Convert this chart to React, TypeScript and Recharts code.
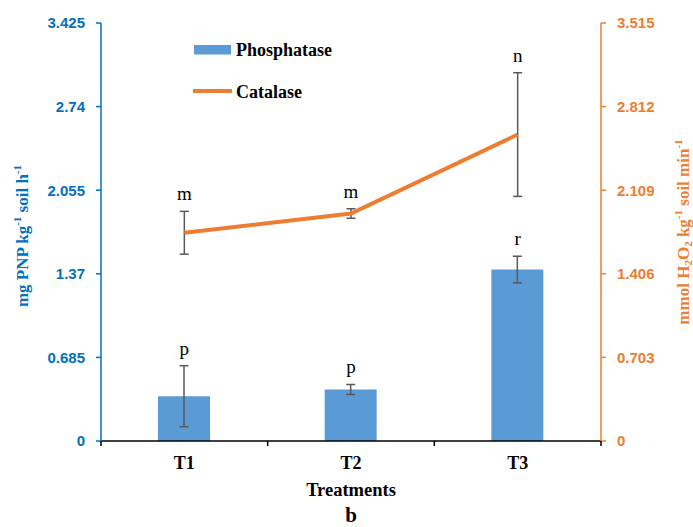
import React from 'react';
import { ComposedChart, Bar, Line, XAxis, YAxis, ErrorBar, LabelList, Legend } from 'recharts';

const categories = ['T1', 'T2', 'T3'];
const phosphatase = [0.367, 0.422, 1.405];
const phosphataseErr = [0.25, 0.041, 0.109];
const catalase = [1.751, 1.913, 2.577];
const catalaseErr = [0.18, 0.04, 0.52];
const phosLetters = ['p', 'p', 'r'];
const catLetters = ['m', 'm', 'n'];
const leftTicks = [0, 0.685, 1.37, 2.055, 2.74, 3.425];
const rightTicks = [0, 0.703, 1.406, 2.109, 2.812, 3.515];

const data = categories.map((c, i) => ({
  name: c,
  phos: phosphatase[i],
  phosErr: phosphataseErr[i],
  cat: catalase[i],
  catErr: catalaseErr[i],
  phosTop: phosphatase[i] + phosphataseErr[i],
  catTop: catalase[i] + catalaseErr[i],
  phosLetter: phosLetters[i],
  catLetter: catLetters[i],
}));

const CHART_W = 693;
const CHART_H = 527;
const LEFT_W = 101;
const RIGHT_W = 92;
const BAND = (CHART_W - LEFT_W - RIGHT_W) / categories.length;

const BLUE = '#5B9BD5';
const AXIS_BLUE = '#0070C0';
const ORANGE = '#ED7D31';
const SERIF = '"Liberation Serif", "Times New Roman", serif';
const SANS = '"Liberation Sans", Arial, sans-serif';

const renderLetter = (props: any) => {
  const { x, y, value } = props;
  return (
    <text x={x} y={y - 11} textAnchor="middle" fontFamily={SERIF} fontSize={19} fill="#000">
      {value}
    </text>
  );
};

const CatTick = (props: any) => {
  const { x, y, payload, index } = props;
  const half = BAND / 2;
  return (
    <g>
      <line x1={x - half} x2={x - half} y1={y} y2={y + 5} stroke="#000" strokeWidth={1.5} />
      {index === categories.length - 1 && (
        <line x1={x + half} x2={x + half} y1={y} y2={y + 5} stroke="#000" strokeWidth={1.5} />
      )}
      <text x={x} y={y + 28} textAnchor="middle" fontFamily={SERIF} fontWeight="bold" fontSize={18} fill="#000">
        {payload.value}
      </text>
    </g>
  );
};

const XTitle = (props: any) => {
  const { viewBox } = props;
  const cx = viewBox.x + viewBox.width / 2;
  return (
    <g>
      <text x={cx} y={viewBox.y + 55} textAnchor="middle" fontFamily={SERIF} fontWeight="bold" fontSize={18.5} fill="#000">
        Treatments
      </text>
      <text x={cx} y={viewBox.y + 81} textAnchor="middle" fontFamily={SERIF} fontWeight="bold" fontSize={21} fill="#000">
        b
      </text>
    </g>
  );
};

const LeftTitle = (props: any) => {
  const { viewBox } = props;
  const cx = 28;
  const cy = viewBox.y + viewBox.height / 2 + 4;
  return (
    <text x={cx} y={cy} transform={`rotate(-90, ${cx}, ${cy})`} textAnchor="middle" fontFamily={SERIF} fontWeight="bold" fontSize={17} fill={AXIS_BLUE}>
      <tspan>mg PNP kg</tspan>
      <tspan fontSize={11} dy={-7}>-1</tspan>
      <tspan dy={7}> soil h</tspan>
      <tspan fontSize={11} dy={-7}>-1</tspan>
    </text>
  );
};

const RightTitle = (props: any) => {
  const { viewBox } = props;
  const cx = 689;
  const cy = viewBox.y + viewBox.height / 2;
  return (
    <text x={cx} y={cy} transform={`rotate(-90, ${cx}, ${cy})`} textAnchor="middle" fontFamily={SERIF} fontWeight="bold" fontSize={17} fill={ORANGE}>
      <tspan>mmol H</tspan>
      <tspan fontSize={11} dy={3}>2</tspan>
      <tspan dy={-3}>O</tspan>
      <tspan fontSize={11} dy={3}>2</tspan>
      <tspan dy={-3}> kg</tspan>
      <tspan fontSize={11} dy={-7}>-1</tspan>
      <tspan dy={7}> soil min</tspan>
      <tspan fontSize={11} dy={-7}>-1</tspan>
    </text>
  );
};

const LegendContent = () => (
  <svg width={170} height={72} style={{ display: 'block' }}>
    <rect x={4} y={10} width={37} height={9.5} fill={BLUE} />
    <text x={46} y={21} fontFamily={SERIF} fontWeight="bold" fontSize={18} fill="#000">Phosphatase</text>
    <line x1={3} x2={42} y1={56} y2={56} stroke={ORANGE} strokeWidth={4} />
    <text x={46} y={63} fontFamily={SERIF} fontWeight="bold" fontSize={18} fill="#000">Catalase</text>
  </svg>
);

export default function App() {
  return (
    <div style={{ position: 'absolute', left: 0, top: 0, width: CHART_W, height: CHART_H, background: '#fff' }}>
      <ComposedChart width={CHART_W} height={CHART_H} data={data} margin={{ top: 23, right: 0, bottom: 0, left: 0 }}>
        <XAxis
          xAxisId="cat"
          dataKey="name"
          height={86}
          axisLine={{ stroke: '#000', strokeWidth: 1.5 }}
          tickLine={false}
          tickSize={0}
          tickMargin={0}
          tick={<CatTick />}
          label={<XTitle />}
        />
        <YAxis
          yAxisId="left"
          orientation="left"
          width={LEFT_W}
          domain={[0, 3.425]}
          ticks={leftTicks}
          interval={0}
          axisLine={{ stroke: AXIS_BLUE, strokeWidth: 1.5 }}
          tickLine={{ stroke: AXIS_BLUE, strokeWidth: 1.5 }}
          tickSize={5}
          tickMargin={11}
          tick={{ fill: AXIS_BLUE, fontFamily: SANS, fontWeight: 'bold', fontSize: 15 }}
          label={<LeftTitle />}
        />
        <YAxis
          yAxisId="right"
          orientation="right"
          width={RIGHT_W}
          domain={[0, 3.515]}
          ticks={rightTicks}
          interval={0}
          axisLine={{ stroke: ORANGE, strokeWidth: 1.5 }}
          tickLine={{ stroke: ORANGE, strokeWidth: 1.5 }}
          tickSize={5}
          tickMargin={11}
          tick={{ fill: ORANGE, fontFamily: SANS, fontWeight: 'bold', fontSize: 15 }}
          label={<RightTitle />}
        />
        <Legend
          layout="vertical"
          align="center"
          verticalAlign="middle"
          content={<LegendContent />}
          wrapperStyle={{ position: 'absolute', left: 190, top: 35, width: 170, height: 72 }}
        />
        <Bar xAxisId="cat" yAxisId="left" dataKey="phos" name="Phosphatase" fill={BLUE} barSize={52} isAnimationActive={false}>
          <ErrorBar dataKey="phosErr" width={4.5} stroke="#595959" strokeWidth={1.5} />
        </Bar>
        <Line xAxisId="cat" yAxisId="right" dataKey="cat" name="Catalase" stroke={ORANGE} strokeWidth={4} dot={false} activeDot={false} isAnimationActive={false}>
          <ErrorBar dataKey="catErr" width={4.5} stroke="#595959" strokeWidth={1.5} />
        </Line>
        <Line xAxisId="cat" yAxisId="left" dataKey="phosTop" stroke="none" dot={false} activeDot={false} legendType="none" isAnimationActive={false}>
          <LabelList dataKey="phosLetter" content={renderLetter} />
        </Line>
        <Line xAxisId="cat" yAxisId="right" dataKey="catTop" stroke="none" dot={false} activeDot={false} legendType="none" isAnimationActive={false}>
          <LabelList dataKey="catLetter" content={renderLetter} />
        </Line>
      </ComposedChart>
    </div>
  );
}
